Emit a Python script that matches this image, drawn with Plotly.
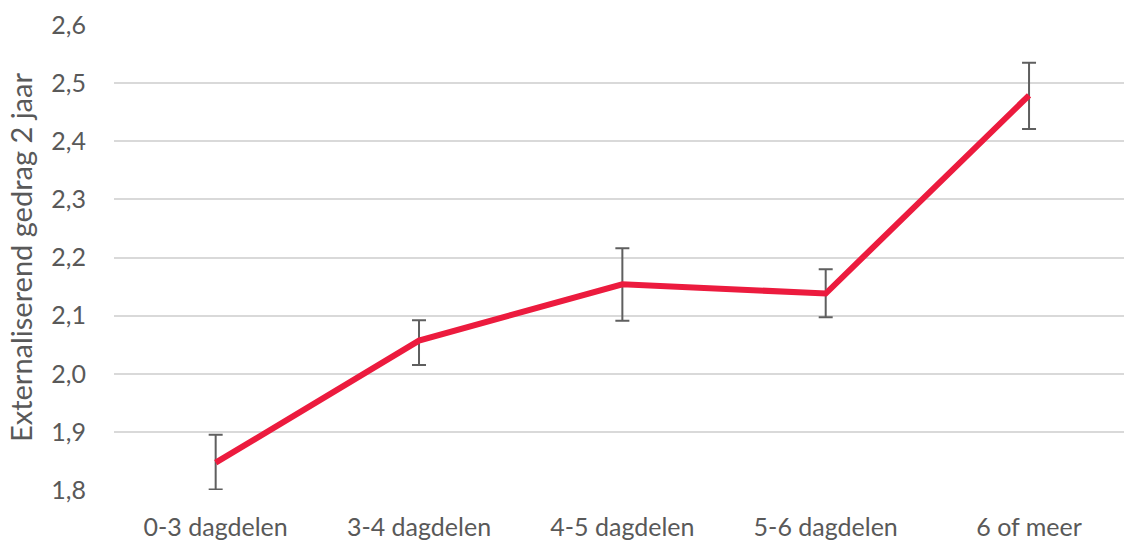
import plotly.graph_objects as go

categories = ["0-3 dagdelen", "3-4 dagdelen", "4-5 dagdelen", "5-6 dagdelen", "6 of meer"]
means = [1.847, 2.057, 2.154, 2.138, 2.479]
upper = [1.895, 2.092, 2.216, 2.180, 2.535]
lower = [1.801, 2.015, 2.091, 2.097, 2.421]

err_plus = [u - m for u, m in zip(upper, means)]
err_minus = [m - l for m, l in zip(means, lower)]

fig = go.Figure()
fig.add_trace(go.Scatter(
    x=categories, y=means, mode="lines",
    line=dict(color="#EC1B3E", width=6),
    error_y=dict(type="data", symmetric=False, array=err_plus, arrayminus=err_minus,
                 color="#5F5F5F", thickness=2, width=7),
    showlegend=False,
))

font_family = "Lato, Open Sans, sans-serif"
fig.update_layout(
    width=1124, height=540,
    margin=dict(l=114, r=0, t=25, b=50),
    paper_bgcolor="white", plot_bgcolor="white",
    separators=",.",
    font=dict(family=font_family, color="#595959", size=24),
    xaxis=dict(type="category", range=[-0.5, 4.467], showgrid=False, automargin=False,
               showline=False, ticks="", ticklabelstandoff=20,
               tickfont=dict(size=25, color="#595959")),
    yaxis=dict(range=[1.8, 2.6], dtick=0.1, tickformat=".1f", automargin=False,
               showgrid=True, gridcolor="#D9D9D9", gridwidth=1.5,
               zeroline=False, showline=False, ticks="",
               ticklabelstandoff=27,
               tickfont=dict(size=25, color="#595959"),
               title=dict(text="Externaliserend gedrag 2 jaar", standoff=10,
                          font=dict(size=29, color="#595959"))),
)
fig.write_html(
    "out.html",
    config={"displayModeBar": False},
    post_script="document.body.style.margin='0';document.body.style.overflow='hidden';",
)
